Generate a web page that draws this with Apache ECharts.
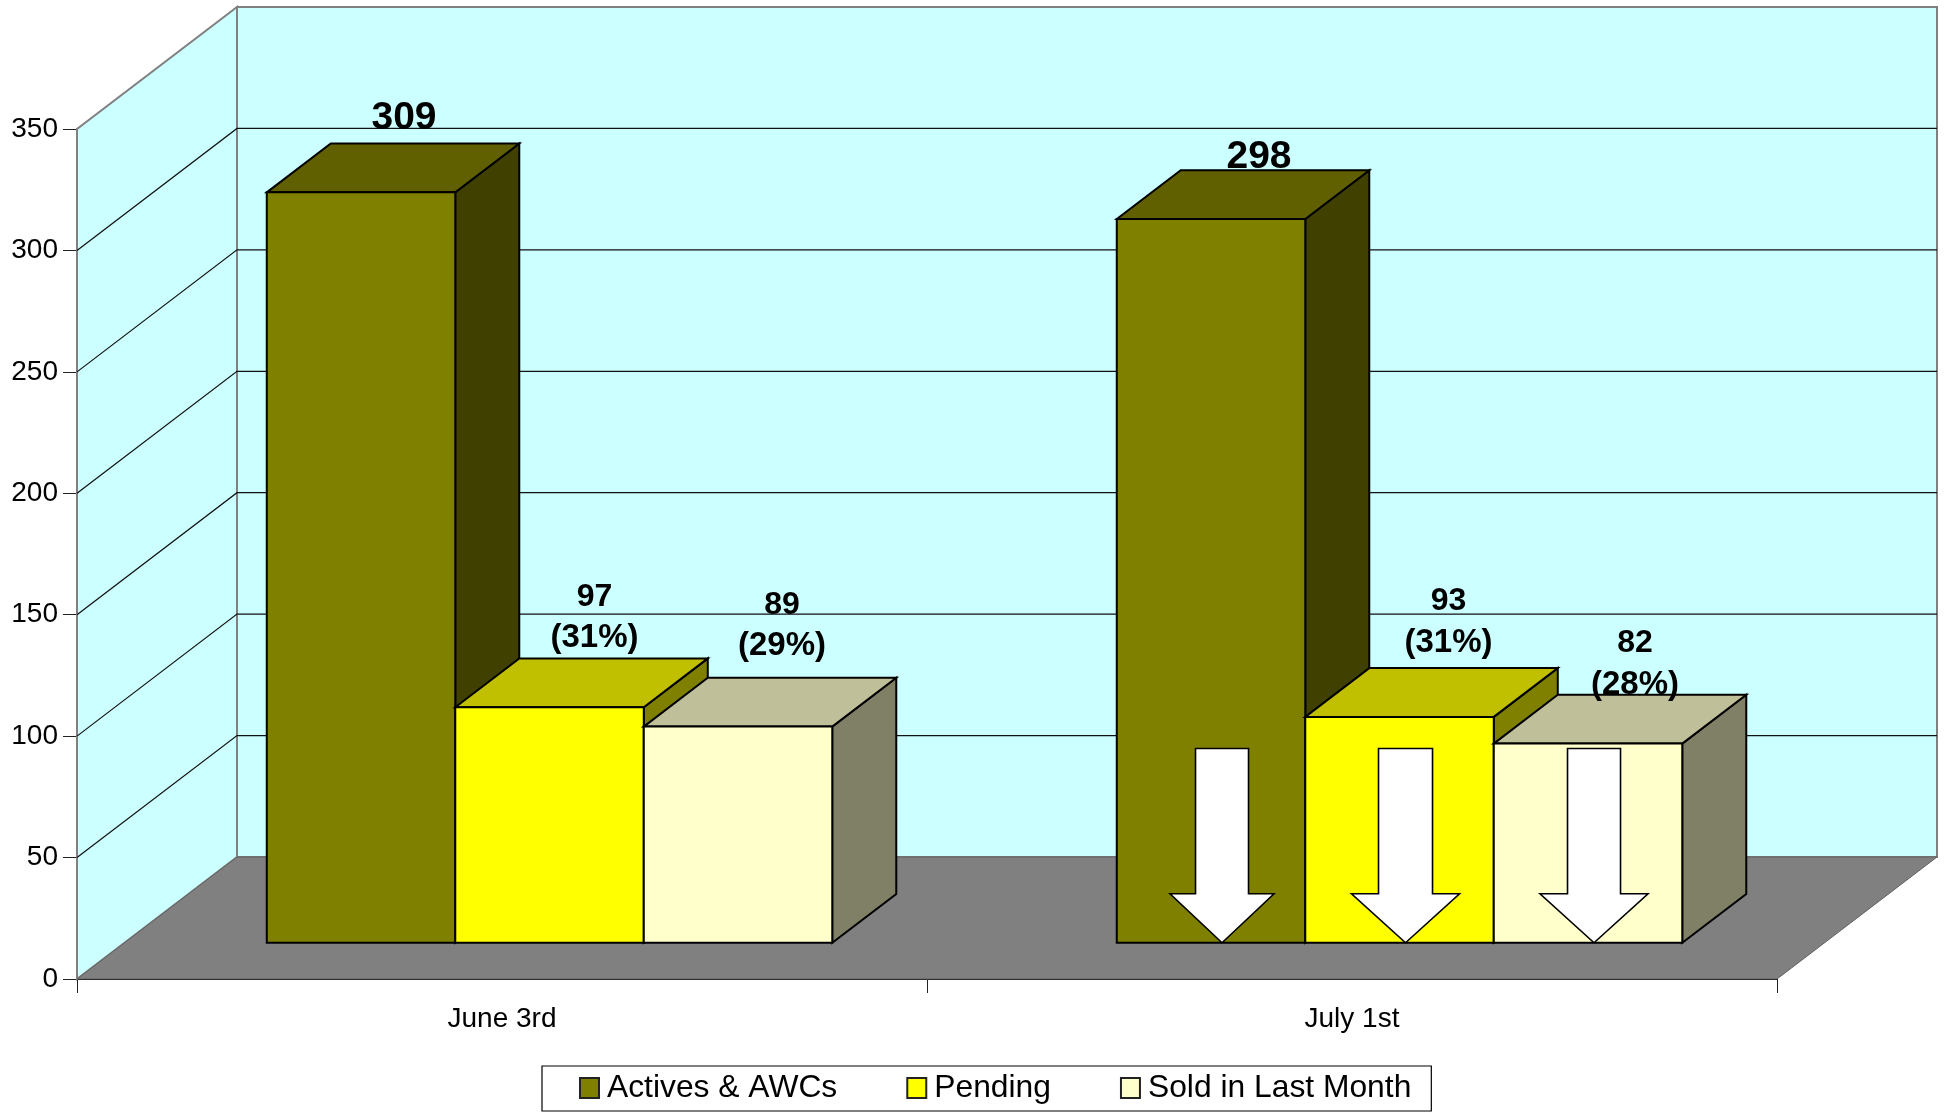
<!DOCTYPE html>
<html>
<head>
<meta charset="utf-8">
<title>Listings chart</title>
<script src="https://cdn.jsdelivr.net/npm/echarts@6/dist/echarts.min.js"></script>
<style>
  html, body { margin: 0; padding: 0; background: #fff; }
  #chart { width: 1946px; height: 1112px; }
</style>
</head>
<body>
<div id="chart"></div>
<script>
var categories = ["June 3rd", "July 1st"];
var seriesNames = ["Actives & AWCs", "Pending", "Sold in Last Month"];
var activesValues = [309, 298];
var pendingValues = [97, 93];
var soldValues = [89, 82];
var pendingShares = ["(31%)", "(31%)"];
var soldShares = ["(29%)", "(28%)"];
var yTicks = [50, 100, 150, 200, 250, 300];
// arrows only on the second date, tops
var arrowCategory = 1;
var arrowTopValue = 80;

// colours: front, top, side
var barColors = [
  ["#808000", "#606000", "#404000"],
  ["#FFFF00", "#C0C000", "#808000"],
  ["#FFFFCC", "#BFBF99", "#808066"]
];
var FONT = '"Liberation Sans", Arial, sans-serif';

// box depth in pixels, and where the bars sit inside that depth
var DEPTH_X = 160;
var DEPTH_Y = 122;
var BAR_FRONT = 0.297;
var BAR_BACK = 0.697;
var BAR_SHARE = 188.5 / 850;

// offsets of the labels from the back of each bar top [series][category][dx, line1 dy, line2 dy]
var labelOffsets = [
  [[11, -25], [16, -13]],
  [[13, -61, -20], [17, -67, -25]],
  [[12, -73, -32], [15, -52, -10]]
];
// arrow centre offset from bar centre, shaft width, head width
var arrowShapes = [[11, 53, 104], [6, 54, 108], [6, 53, 108]];

var chart = echarts.init(document.getElementById("chart"));

function depth(p, d) {
  return [p[0] + DEPTH_X * d, p[1] - DEPTH_Y * d];
}

function poly(points, fill, stroke, width, z2) {
  return {
    type: "polygon",
    z2: z2 || 0,
    shape: { points: points },
    style: { fill: fill, stroke: stroke, lineWidth: width, lineJoin: "miter" }
  };
}

function renderRoom(params, api) {
  var box = params.coordSys;
  var x0 = box.x;
  var x1 = box.x + box.width;
  var bottom = api.coord([0, 0])[1];
  var top = api.coord([0, 350])[1];
  var bl = [x0, bottom], tl = [x0, top], br = [x1, bottom], tr = [x1, top];
  return {
    type: "group",
    children: [
      poly([bl, tl, depth(tl, 1), depth(bl, 1)], "#CCFFFF", "#808080", 2),
      poly([depth(bl, 1), depth(tl, 1), depth(tr, 1), depth(br, 1)], "#CCFFFF", "#808080", 2),
      poly([bl, depth(bl, 1), depth(br, 1), br], "#808080", "#606060", 1)
    ]
  };
}

function renderGrid(params, api) {
  var box = params.coordSys;
  var y = api.coord([0, api.value(0)])[1];
  var a = [box.x, y];
  var b = depth(a, 1);
  var c = depth([box.x + box.width, y], 1);
  return {
    type: "polyline",
    shape: { points: [a, b, c] },
    style: { fill: "none", stroke: "#111", lineWidth: 1.2 }
  };
}

function makeBarRender(seriesIndex) {
  return function (params, api) {
    var band = api.size([1, 0])[0];
    var w = band * BAR_SHARE;
    var centre = api.coord([api.value(0), 0])[0];
    var left = centre + (seriesIndex - 1.5) * w;
    var right = left + w;
    var base = api.coord([api.value(0), 0])[1];
    var top = api.coord([api.value(0), api.value(1)])[1];
    var colors = barColors[seriesIndex];
    var fl = depth([left, top], BAR_FRONT), fr = depth([right, top], BAR_FRONT);
    var bl = depth([left, top], BAR_BACK), br = depth([right, top], BAR_BACK);
    var gl = depth([left, base], BAR_FRONT), gr = depth([right, base], BAR_FRONT);
    var gb = depth([right, base], BAR_BACK);
    return {
      type: "group",
      children: [
        poly([fr, br, gb, gr], colors[2], "#000", 2),
        poly([fl, bl, br, fr], colors[1], "#000", 2),
        poly([fl, fr, gr, gl], colors[0], "#000", 2)
      ]
    };
  };
}

function renderArrow(params, api) {
  var band = api.size([1, 0])[0];
  var w = band * BAR_SHARE;
  var s = api.value(1);
  var shape = arrowShapes[s];
  var centre = api.coord([api.value(0), 0])[0] + (s - 1) * w;
  var tip = depth([centre, api.coord([api.value(0), 0])[1]], BAR_FRONT);
  var top = depth([centre, api.coord([api.value(0), arrowTopValue])[1]], BAR_FRONT);
  var cx = tip[0] + shape[0];
  var shoulder = tip[1] - 49;
  var sw = shape[1] / 2, hw = shape[2] / 2;
  return poly([
    [cx - sw, top[1]], [cx + sw, top[1]], [cx + sw, shoulder], [cx + hw, shoulder],
    [cx, tip[1]], [cx - hw, shoulder], [cx - sw, shoulder]
  ], "#fff", "#000", 1.6);
}

function renderLabel(params, api) {
  var band = api.size([1, 0])[0];
  var w = band * BAR_SHARE;
  var s = api.value(2);
  var c = api.value(0);
  var centre = api.coord([c, 0])[0] + (s - 1) * w;
  var top = api.coord([c, api.value(1)])[1];
  var mid = depth([centre, top], (BAR_FRONT + BAR_BACK) / 2);
  var back = depth([centre, top], BAR_BACK);
  var off = labelOffsets[s][c];
  var big = s === 0;
  var children = [{
    type: "text",
    style: {
      text: String(api.value(1)),
      x: mid[0] + off[0],
      y: back[1] + off[1],
      fill: "#000",
      font: "bold " + (big ? 39 : 32) + "px " + FONT,
      align: "center",
      verticalAlign: "middle"
    }
  }];
  if (!big) {
    children.push({
      type: "text",
      style: {
        text: (s === 1 ? pendingShares : soldShares)[c],
        x: mid[0] + off[0],
        y: back[1] + off[2],
        fill: "#000",
        font: "bold 33px " + FONT,
        align: "center",
        verticalAlign: "middle"
      }
    });
  }
  return { type: "group", children: children };
}

function barSeries(index, values, z) {
  return {
    name: seriesNames[index],
    type: "custom",
    z: z,
    renderItem: makeBarRender(index),
    encode: { x: 0, y: 1 },
    itemStyle: { color: barColors[index][0] },
    data: values.map(function (v, i) { return [i, v]; })
  };
}

var labelRows = [];
[activesValues, pendingValues, soldValues].forEach(function (values, s) {
  values.forEach(function (v, c) { labelRows.push([c, v, s]); });
});

var option = {
  animation: false,
  backgroundColor: "#fff",
  grid: { left: 77, top: 129, width: 1700, height: 850 },
  legend: {
    left: 542,
    top: 1066,
    orient: "horizontal",
    padding: [6, 20, 7, 37],
    backgroundColor: "#fff",
    borderColor: "#000",
    borderWidth: 1.2,
    borderRadius: 0,
    itemWidth: 19,
    itemHeight: 20,
    itemGap: 69,
    selectedMode: false,
    textStyle: { fontFamily: FONT, fontSize: 31.8, color: "#000", padding: [6, 0, 0, 3] },
    data: seriesNames.map(function (name, i) {
      return {
        name: name,
        icon: "rect",
        itemStyle: { color: barColors[i][0], borderColor: "#222", borderWidth: 2 }
      };
    })
  },
  xAxis: {
    type: "category",
    data: categories,
    axisLine: { lineStyle: { color: "#000", width: 2 } },
    axisTick: { show: true, length: 14, lineStyle: { color: "#222", width: 1 } },
    axisLabel: { margin: 26, fontFamily: FONT, fontSize: 28, color: "#000" },
    splitLine: { show: false }
  },
  yAxis: {
    type: "value",
    min: 0,
    max: 350,
    interval: 50,
    axisLine: { show: true, lineStyle: { color: "#808080", width: 2 } },
    axisTick: { show: true, length: 14, lineStyle: { color: "#222", width: 1 } },
    axisLabel: { margin: 19, fontFamily: FONT, fontSize: 28, color: "#000", padding: [4, 0, 0, 0] },
    splitLine: { show: false }
  },
  series: [
    { type: "custom", z: 1, renderItem: renderRoom, encode: { x: 0, y: 1 }, silent: true, data: [[0, 0]] },
    {
      type: "custom", z: 2, renderItem: renderGrid, encode: { y: 0 }, silent: true,
      data: yTicks.map(function (v) { return [v]; })
    },
    barSeries(0, activesValues, 3),
    barSeries(1, pendingValues, 4),
    barSeries(2, soldValues, 5),
    {
      type: "custom", z: 6, renderItem: renderArrow, encode: { x: 0 }, silent: true,
      data: [[arrowCategory, 0], [arrowCategory, 1], [arrowCategory, 2]]
    },
    { type: "custom", z: 7, renderItem: renderLabel, encode: { x: 0, y: 1 }, silent: true, data: labelRows }
  ]
};

chart.setOption(option);
</script>
</body>
</html>
